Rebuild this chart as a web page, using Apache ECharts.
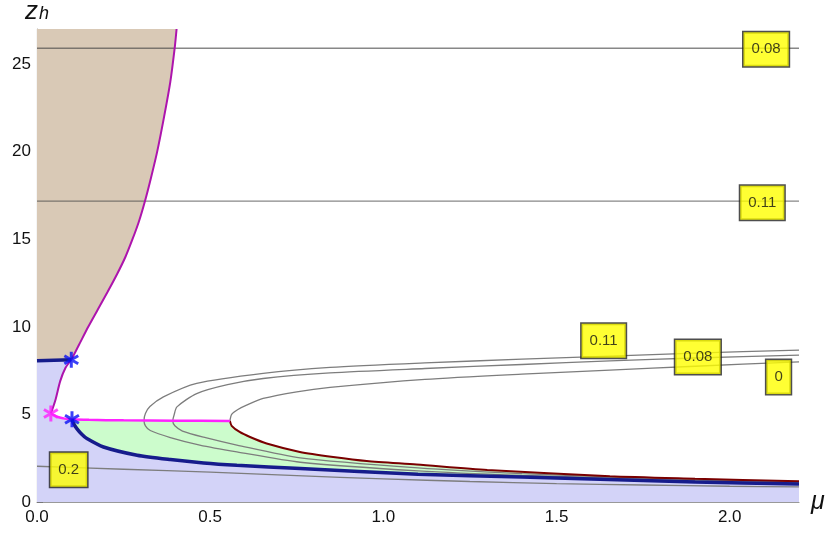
<!DOCTYPE html>
<html>
<head>
<meta charset="utf-8">
<script src="https://cdn.jsdelivr.net/npm/echarts@6/dist/echarts.min.js"></script>
<style>
html,body{margin:0;padding:0;background:#fff;}
#chart{width:831px;height:533px;}
</style>
</head>
<body>
<div id="chart"></div>
<script>
// ---- tick values ----
const xTicks = [0, 0.5, 1.0, 1.5, 2.0];
const yTicks = [0, 5, 10, 15, 20, 25];
const xMinorTicks = [0.1,0.2,0.3,0.4,0.6,0.7,0.8,0.9,1.1,1.2,1.3,1.4,1.6,1.7,1.8,1.9,2.1];
const yMinorTicks = [1,2,3,4,6,7,8,9,11,12,13,14,16,17,18,19,21,22,23,24,26];

// ---- boundary curves (mu, z_h) ----
const blueTop = [[0,8.06],[0.099,8.12]];
const magentaUpper = [[0.099,8.12],[0.122,9],[0.148,10],[0.176,11],[0.204,12],[0.231,13],[0.2555,14],[0.2757,15],[0.294,16],[0.312,17.2],[0.329,18.5],[0.347,20],[0.367,22],[0.385,24],[0.398,26],[0.403,27]];
const magentaLower = [[0.040,5.05],[0.053,5.81],[0.067,6.90],[0.082,7.65],[0.099,8.12]];
const magentaFlat = [[0.040,5.05],[0.060,4.85],[0.080,4.76],[0.101,4.72],[0.150,4.69],[0.250,4.66],[0.400,4.64],[0.557,4.63]];
const blueCurve = [[0.101,4.72],[0.105,4.50],[0.115,4.19],[0.130,3.85],[0.144,3.62],[0.192,3.14],[0.289,2.67],[0.385,2.42],[0.481,2.23],[0.577,2.10],[0.760,1.91],[1.100,1.58],[1.400,1.42],[1.650,1.28],[1.900,1.14],[2.200,1.03]];
const redCurve = [[0.557,4.63],[0.562,4.35],[0.585,4.00],[0.615,3.71],[0.663,3.34],[0.759,2.86],[0.855,2.57],[0.952,2.34],[1.096,2.14],[1.300,1.83],[1.654,1.47],[1.900,1.33],[2.200,1.18]];

// ---- gray contours ----
const contour011 = [[2.2,1.10],[1.9,1.24],[1.654,1.38],[1.4,1.52],[1.1,1.78],[0.76,2.27],[0.577,2.86],[0.47,3.25],[0.385,3.68],[0.327,4.08],[0.313,4.35],[0.309,4.65],[0.313,5.05],[0.326,5.45],[0.365,6.0],[0.461,6.77],[0.653,7.34],[0.846,7.68],[1.12,7.94],[1.4,8.15],[1.654,8.33],[1.9,8.5],[2.2,8.67]];
const contour008 = [[2.2,1.14],[1.9,1.28],[1.654,1.43],[1.4,1.62],[1.1,1.95],[0.76,2.52],[0.577,3.25],[0.481,3.7],[0.42,4.05],[0.398,4.35],[0.392,4.62],[0.396,4.98],[0.404,5.43],[0.461,6.19],[0.55,6.7],[0.653,7.05],[0.846,7.37],[1.12,7.62],[1.4,7.85],[1.654,8.06],[1.9,8.22],[2.2,8.38]];
const contour0 = [[0.557,4.63],[0.562,5.0],[0.58,5.28],[0.605,5.53],[0.653,5.91],[0.75,6.29],[0.846,6.54],[1.12,7.0],[1.4,7.3],[1.654,7.53],[1.9,7.75],[2.2,8.0]];
const contour02 = [[0,2.04],[0.25,1.87],[0.5,1.70],[0.75,1.50],[1.0,1.32],[1.25,1.17],[1.5,1.05],[1.75,0.97],[2.0,0.90],[2.2,0.86]];
const level008 = [[0,25.9],[2.2,25.9]];
const level011 = [[0,17.18],[2.2,17.18]];

// ---- markers and contour labels ----
const blueStars = [[0.099,8.12],[0.101,4.72]];
const magentaStars = [[0.040,5.05]];
const contourLabels = [[2.105,25.84,'0.08'],[2.094,17.08,'0.11'],[1.636,9.21,'0.11'],[1.908,8.27,'0.08'],[2.141,7.13,'0'],[0.0915,1.84,'0.2']];

// ---- region polygons built from the curves ----
const tanRegion = [[0,27]].concat(magentaUpper.slice().reverse(), [blueTop[0]]);
const lavenderRegion = [[0,0]].concat(blueTop, magentaLower.slice().reverse(), magentaFlat.slice(1,4), blueCurve.slice(1), [[2.2,0]]);
const greenRegion = magentaFlat.slice(3).concat(redCurve.slice(1), blueCurve.slice().reverse());

function region(points, color) {
  return {
    type: 'custom', coordinateSystem: 'cartesian2d', silent: true, z: 1,
    data: [[0,0]],
    renderItem: function (params, api) {
      return { type: 'polygon', shape: { points: points.map(p => api.coord(p)) }, style: { fill: color } };
    }
  };
}
function curve(data, color, width, z) {
  return { type: 'line', data: data, showSymbol: false, smooth: 0.25, silent: true, z: z,
    lineStyle: { color: color, width: width }, animation: false };
}

const starPath = 'path://M0,-10L0,10M-8.66,-5L8.66,5M-8.66,5L8.66,-5';
const font = 'Liberation Sans, Arial, sans-serif';

const chart = echarts.init(document.getElementById('chart'));
chart.setOption({
  animation: false,
  grid: { left: 37, right: 32, top: 29, bottom: 31, outerBoundsMode: 'none', containLabel: false },
  xAxis: [{
    type: 'value', min: 0, max: 2.2, position: 'bottom',
    axisLine: { lineStyle: { color: '#999', width: 1.2 } },
    axisTick: { inside: true, length: 6, customValues: xTicks, lineStyle: { color: '#777' } },
    axisLabel: { customValues: xTicks, formatter: v => v.toFixed(1), color: '#111', fontSize: 17, margin: 7, fontFamily: font },
    splitLine: { show: false },
    name: 'μ', nameLocation: 'end', nameGap: 12,
    nameTextStyle: { fontStyle: 'italic', fontSize: 25, color: '#111', fontFamily: font, verticalAlign: 'middle' }
  }, {
    type: 'value', min: 0, max: 2.2, position: 'bottom', offset: 0,
    axisLine: { show: false },
    axisTick: { inside: true, length: 3, customValues: xMinorTicks, lineStyle: { color: '#777' } },
    axisLabel: { show: false }, splitLine: { show: false }
  }],
  yAxis: [{
    type: 'value', min: 0, max: 27, position: 'left',
    axisLine: { show: true, lineStyle: { color: '#999', width: 1.2 } },
    axisTick: { show: true, inside: true, length: 6, customValues: yTicks, lineStyle: { color: '#777' } },
    axisLabel: { customValues: yTicks, color: '#111', fontSize: 17, margin: 6, fontFamily: font },
    splitLine: { show: false },
    name: '{z|z}{h|h}', nameLocation: 'end', nameGap: 6,
    nameTextStyle: { align: 'center', fontFamily: font, color: '#111',
      rich: { z: { fontSize: 26, fontStyle: 'italic', fontFamily: font, color: '#111', verticalAlign: 'top', lineHeight: 24 },
              h: { fontSize: 18, fontStyle: 'italic', fontFamily: font, color: '#111', verticalAlign: 'bottom', lineHeight: 18, padding: [8,0,0,1] } } }
  }, {
    type: 'value', min: 0, max: 27, position: 'left', offset: 0,
    axisLine: { show: false },
    axisTick: { show: true, inside: true, length: 3, customValues: yMinorTicks, lineStyle: { color: '#777' } },
    axisLabel: { show: false }, splitLine: { show: false }
  }],
  series: [
    region(lavenderRegion, '#d3d3f8'),
    region(tanRegion, '#d9c9b6'),
    region(greenRegion, '#ccfccc'),
    curve(level008, 'rgba(70,70,70,0.65)', 1.3, 2),
    curve(level011, 'rgba(70,70,70,0.65)', 1.3, 2),
    curve(contour011, '#7d7d7d', 1.3, 2),
    curve(contour008, '#7d7d7d', 1.3, 2),
    curve(contour0, '#7d7d7d', 1.3, 2),
    curve(contour02, '#7d7d7d', 1.3, 2),
    curve(redCurve, '#7a0000', 2, 3),
    curve(magentaUpper, '#ad14ad', 2, 3),
    curve(magentaLower, '#ad14ad', 2, 3),
    curve(magentaFlat, '#ff22ff', 2.5, 3),
    curve(blueTop, '#161c8c', 3.5, 4),
    curve(blueCurve, '#161c8c', 3.5, 4),
    { type: 'scatter', data: blueStars, symbol: starPath, symbolSize: 16, symbolKeepAspect: true, z: 5, silent: true,
      itemStyle: { color: 'rgba(0,0,0,0)', borderColor: '#0a10f5', borderWidth: 3 } },
    { type: 'scatter', data: magentaStars, symbol: starPath, symbolSize: 16, symbolKeepAspect: true, z: 5, silent: true,
      itemStyle: { color: 'rgba(0,0,0,0)', borderColor: '#ff20ff', borderWidth: 3 } },
    { type: 'scatter', z: 10, silent: true, symbol: 'circle', symbolSize: 1,
      itemStyle: { color: 'rgba(0,0,0,0)' },
      data: contourLabels.map(d => ({ value: [d[0], d[1]], name: d[2] })),
      label: { show: true, position: 'inside', formatter: p => p.name, backgroundColor: '#ffff00',
        borderColor: '#222', borderWidth: 1.5, padding: [8, 8, 8, 8], fontSize: 15, lineHeight: 18,
        color: '#111', fontFamily: font } }
  ]
});
</script>
</body>
</html>
